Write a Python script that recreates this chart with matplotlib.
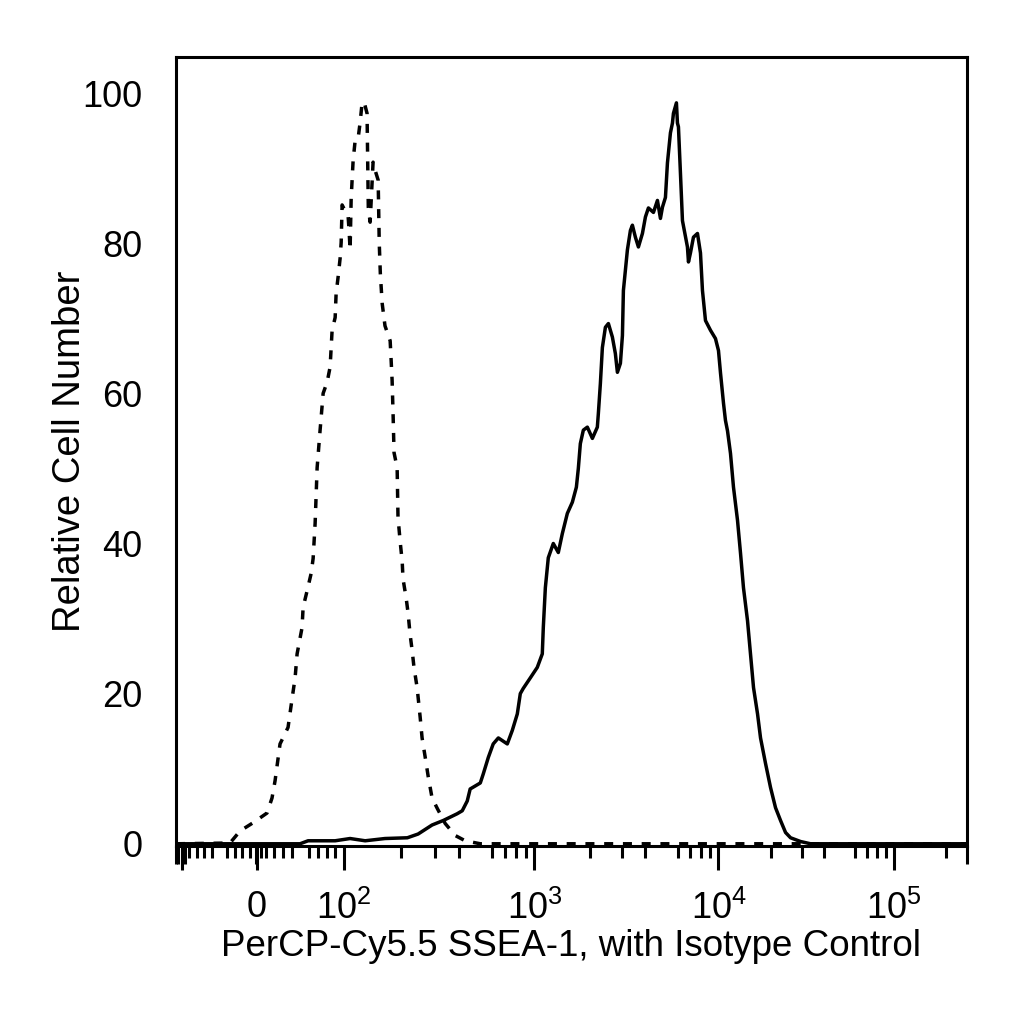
import numpy as np
import matplotlib
matplotlib.use("Agg")
import matplotlib.pyplot as plt

plt.rcParams["font.family"] = ["Liberation Sans", "DejaVu Sans"]
plt.rcParams["mathtext.fontset"] = "custom"
plt.rcParams["mathtext.rm"] = "Liberation Sans"
plt.rcParams["mathtext.it"] = "Liberation Sans:italic"

# isotype control (dashed), fluorescence vs relative count
iso_x = [-120, -36, -22.7, -5.3, 11.5, 17.2, 20.7, 26.4, 35.6, 40.2,
         43.7, 46, 51.7, 52.9, 57.5, 62.1, 64.4, 66.7, 69, 72.4,
         75.9, 80.5, 83.9, 86.2, 89.7, 90.8, 93.1, 95.4, 96.6, 97.7,
         105, 106.2, 107.5, 108.9, 111.5, 114.3, 118.5, 121.4, 124.3, 127.4,
         132, 134, 137, 142, 145.6, 151, 153, 155, 158.5, 164,
         174.6, 176.7, 178.8, 181, 183, 190, 192, 197, 202, 204,
         212, 217, 222, 228, 233, 242, 251, 257, 267, 277,
         290, 309, 340, 384, 433, 520, 262144]
iso_y = [0, 0.1, 1.7, 2.8, 4.1, 6.1, 8.4, 13.3, 15.5, 19.3,
         22.1, 25.3, 28.8, 31.5, 33.7, 36, 38, 42.7, 50.1, 55.1,
         60, 61.5, 63.5, 68.4, 70.1, 73.3, 75.5, 78, 80.1, 85.1,
         83.5, 81.7, 79.1, 86, 91, 93.7, 94, 96.1, 98.7, 98.8,
         97.3, 84.8, 82.8, 90.8, 89.7, 88.4, 80, 76, 72, 69,
         67, 64.4, 61.7, 57, 52.1, 50.1, 43.5, 40.3, 37.6, 35.3,
         32.7, 30.7, 28, 25.7, 23.5, 20.8, 16.9, 14.1, 11.5, 8.9,
         6.1, 4.7, 2.7, 1.1, 0.4, 0, 0]

# PerCP-Cy5.5 SSEA-1 stained cells (solid)
ssea_x = [-120, 49.4, 58.6, 89.7, 107.5, 129, 164, 215, 245, 290,
          332, 393, 418, 444, 460, 520, 539, 573, 608, 647,
          721, 766, 814, 844, 875, 953, 1038, 1105, 1119, 1148,
          1191, 1268, 1350, 1419, 1511, 1609, 1692, 1734, 1778, 1846,
          1941, 2067, 2199, 2227, 2284, 2342, 2432, 2525, 2654, 2755,
          2826, 2934, 3009, 3046, 3202, 3325, 3409, 3539, 3675, 3864,
          4012, 4165, 4435, 4662, 4840, 4963, 5152, 5283, 5484, 5623,
          5694, 5911, 5987, 6062, 6216, 6374, 6783, 6871, 7043, 7313,
          7690, 7984, 8185, 8500, 9050, 9630, 10000, 10270, 10680, 10960,
          11260, 11710, 12180, 12840, 13360, 13890, 14650, 15230, 15850, 16710,
          17380, 18560, 19820, 21170, 22610, 24150, 25790, 29420, 33550, 262144]
ssea_y = [0, 0, 0.4, 0.4, 0.7, 0.4, 0.7, 0.8, 1.3, 2.5,
          3.1, 4, 4.4, 5.7, 7.3, 8.1, 9.3, 11.5, 13.3, 14.1,
          13.3, 15.1, 17.3, 20, 20.7, 22.1, 23.5, 25.3, 28.8, 34.1,
          38.1, 40, 38.8, 41.3, 44, 45.5, 47.5, 50, 53.3, 55.1,
          55.5, 54, 55.5, 57.3, 61.3, 66.1, 68.8, 69.3, 67.5, 65.3,
          62.8, 64, 67.7, 73.7, 79.1, 81.7, 82.4, 80.8, 79.5, 81.3,
          83.5, 84.7, 84.1, 85.7, 83.3, 84.8, 86.1, 90.7, 94.7, 96,
          97.3, 98.7, 96, 95.5, 89.3, 83, 79.5, 77.5, 78.7, 80.8,
          81.3, 78.7, 73.7, 69.7, 68.4, 67.3, 65.7, 62.7, 58.7, 56.4,
          55, 52, 47.5, 43.1, 38.7, 34.1, 29.7, 25.3, 20.8, 17.3,
          14.1, 10.7, 7.5, 4.8, 3.1, 1.5, 0.8, 0.3, 0, 0]

y_ticks = [0, 20, 40, 60, 80, 100]
x_major = [-100, 0, 100, 1000, 10000, 100000]
x_labels = ["", "0", r"$10^2$", r"$10^3$", r"$10^4$", r"$10^5$"]
x_medium = [-50, 50, 500, 5000, 50000]
x_minor = [-90, -80, -70, -60, -40, -30, -20, -10, 5, 10, 20, 30, 40, 60, 70, 80, 90,
           200, 300, 400, 600, 700, 800, 900,
           2000, 3000, 4000, 6000, 7000, 8000, 9000,
           20000, 30000, 40000, 60000, 70000, 80000, 90000, 200000]

# biexponential-like display: linear around zero, log per decade above 100
U_ANCHOR = [-2, -1, 0, 1, 2, 3, 4, 5]
P_ANCHOR = [107, 182, 257, 344, 534, 718, 893, 1068]


def to_u(x):
    x = np.asarray(x, dtype=float)
    a = np.abs(x)
    return np.where(a <= 100, x / 100,
                    np.sign(x) * (1 + np.log10(np.maximum(a, 100) / 100)))


def from_u(u):
    u = np.asarray(u, dtype=float)
    a = np.abs(u)
    return np.where(a <= 1, u * 100,
                    np.sign(u) * 100 * 10 ** (np.maximum(a, 1) - 1))


def forward(x):
    return np.interp(to_u(x), U_ANCHOR, P_ANCHOR)


def inverse(p):
    return from_u(np.interp(p, P_ANCHOR, U_ANCHOR))


fig = plt.figure(figsize=(10.24, 10.24), dpi=100)
ax = fig.add_axes([0.1719, 0.1738, 0.7724, 0.7705])
ax.set_xscale("function", functions=(forward, inverse))

ax.plot(iso_x, iso_y, color="black", lw=2.5, linestyle=(0, (2.6, 2.8)))
ax.plot(ssea_x, ssea_y, color="black", lw=2.5)

ax.set_xlim(-120, 262144)
ax.set_ylim(-0.3, 104.8)

for s in ax.spines.values():
    s.set_linewidth(2.2)

ax.set_yticks(y_ticks, [str(v) for v in y_ticks])
ax.tick_params(axis="y", length=0, pad=24, labelsize=26)
ax.set_xticks(x_major, x_labels)
ax.set_xticks(x_minor, minor=True)
ax.tick_params(axis="x", which="major", direction="out", length=17, width=2.2,
               pad=15, labelsize=26)
ax.tick_params(axis="x", which="minor", direction="out", length=8.5, width=2.2)

ax2 = ax.twiny()
ax2.set_xticks(x_medium)
ax2.xaxis.set_ticks_position("bottom")
ax2.tick_params(axis="x", direction="out", length=13, width=2.2,
                labelbottom=False, labeltop=False)
for s in ax2.spines.values():
    s.set_visible(False)

ax.set_ylabel("Relative Cell Number", fontsize=27.5)
ax.yaxis.set_label_coords(-0.111, 0.5)
ax.set_xlabel("PerCP-Cy5.5 SSEA-1, with Isotype Control", fontsize=26.5)
ax.xaxis.set_label_coords(0.5, -0.105)

fig.savefig("out.png", dpi=100)
